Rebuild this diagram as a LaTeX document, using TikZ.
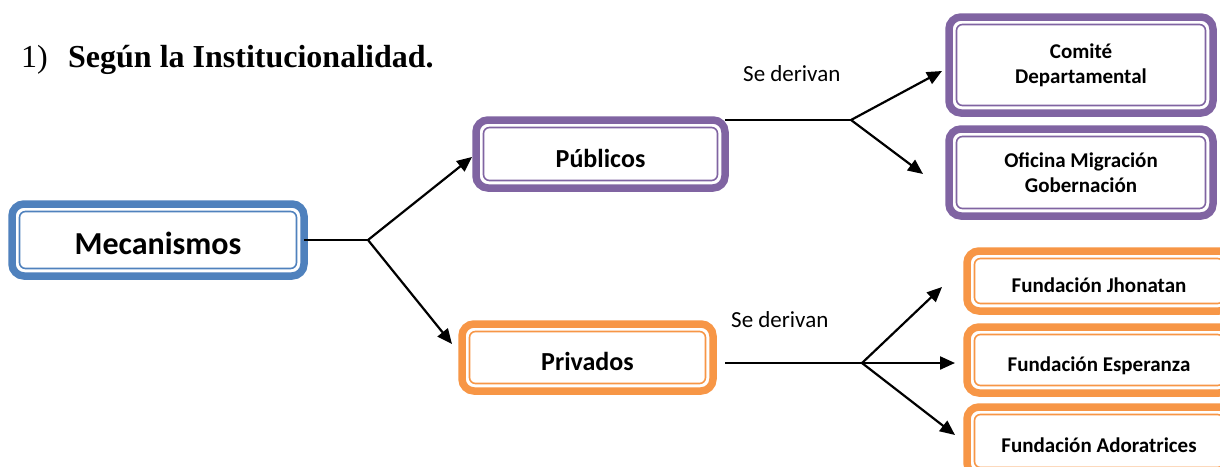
\documentclass[tikz,border=0pt]{standalone}
\usepackage{fontspec}
\setmainfont{Liberation Serif}
\newfontfamily\calfont{Carlito}
\usetikzlibrary{arrows.meta}
\definecolor{cblue}{HTML}{4F81BD}
\definecolor{cpurple}{HTML}{8064A2}
\definecolor{corange}{HTML}{F79646}
\tikzset{
  framebox/.style={draw=#1, line width=7.5pt, rounded corners=12pt, fill=white, inner sep=0pt, outer sep=0pt},
  twoline/.style={align=center},
  bigline/.style={text height=29pt, text depth=0pt},
  midline/.style={text height=26pt, text depth=0pt},
  smallline/.style={text height=23pt, text depth=0pt},
  innerline/.style={draw=#1, line width=1.6pt, rounded corners=6pt},
  conn/.style={line width=1.5pt},
  arr/.style={line width=2.2pt, -{Triangle[length=15pt,width=13pt]}},
  lbl/.style={font=\calfont\fontsize{23}{27}\selectfont, inner sep=0pt, anchor=base west},
  big/.style={font=\calfont\bfseries\fontsize{32}{38}\selectfont},
  mid/.style={font=\calfont\bfseries\fontsize{26}{31}\selectfont},
  small/.style={font=\calfont\bfseries\fontsize{21}{25}\selectfont},
}
\newcommand\innerfr[2]{\draw[innerline=#2] ([shift={(7.5pt,-7.5pt)}]#1.north west) rectangle ([shift={(-7.5pt,7.5pt)}]#1.south east);}
\begin{document}
\begin{tikzpicture}[x=1pt,y=-1pt]
\useasboundingbox (0,0) rectangle (1220,466);
\clip (0,0) rectangle (1220,466);
\fill[white] (0,0) rectangle (1220,466);
% title
\node[anchor=base west, inner sep=0pt, font=\fontsize{32}{38}\selectfont] (num) at (21,67) {1)};
\node[anchor=base west, inner sep=0pt, font=\fontsize{32}{38}\selectfont\bfseries] (title) at (68,67) {Según la Institucionalidad.};
% coordinates
\coordinate (b1) at (368,240);
\coordinate (t1) at (472,157);
\coordinate (t2) at (452,344);
\coordinate (b2) at (851,120);
\coordinate (t3) at (942,71);
\coordinate (t4) at (923,174);
\coordinate (p0) at (725,363);
\coordinate (b3) at (862,363);
\coordinate (t5) at (942,287);
\coordinate (t6) at (955,363);
\coordinate (t7) at (955,435);
% boxes
\node[framebox=cblue, big, bigline, minimum width=292pt, minimum height=72pt] (mec) at (158,240) {Mecanismos};
\innerfr{mec}{cblue}
\node[framebox=cpurple, mid, midline, minimum width=249pt, minimum height=68pt] (pub) at (600.5,154) {Públicos};
\innerfr{pub}{cpurple}
\node[framebox=corange, mid, midline, minimum width=251pt, minimum height=67pt] (priv) at (587.5,357.5) {Privados};
\innerfr{priv}{corange}
\node[framebox=cpurple, small, twoline, minimum width=264pt, minimum height=96pt] (com) at (1081,65) {Comité\\Departamental};
\innerfr{com}{cpurple}
\node[framebox=cpurple, small, twoline, minimum width=264pt, minimum height=87pt] (ofi) at (1081,172.5) {Oficina Migración\\Gobernación};
\innerfr{ofi}{cpurple}
\node[framebox=corange, small, smallline, minimum width=264pt, minimum height=60pt] (jho) at (1099,281) {Fundación Jhonatan};
\innerfr{jho}{corange}
\node[framebox=corange, small, smallline, minimum width=264pt, minimum height=66pt] (esp) at (1099,360) {Fundación Esperanza};
\innerfr{esp}{corange}
\node[framebox=corange, small, smallline, minimum width=264pt, minimum height=68pt] (ado) at (1099,441) {Fundación Adoratrices};
\innerfr{ado}{corange}
% labels
\node[lbl] (sd1) at (743,81) {Se derivan};
\node[lbl] (sd2) at (731,327) {Se derivan};
% connectors
\draw[conn] (mec.east) -- (b1);
\draw[arr] (b1) -- (t1);
\draw[arr] (b1) -- (t2);
\draw[conn] (pub.north east) -- (b2);
\draw[arr] (b2) -- (t3);
\draw[arr] (b2) -- (t4);
\draw[conn] (p0) -- (b3);
\draw[arr] (b3) -- (t5);
\draw[arr] (b3) -- (t6);
\draw[arr] (b3) -- (t7);
\end{tikzpicture}
\end{document}
